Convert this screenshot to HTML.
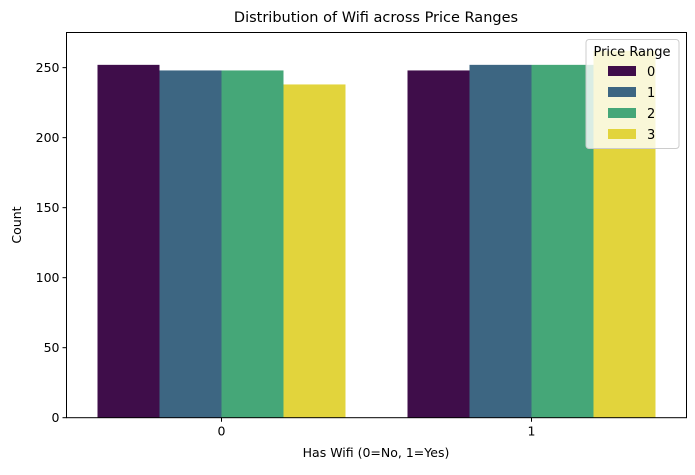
<!DOCTYPE html>
<html><head><meta charset="utf-8"><style>
body{margin:0;background:#fff;font-family:"Liberation Sans","DejaVu Sans",sans-serif}
</style></head><body>
<svg id="chart" width="695" height="470" xmlns="http://www.w3.org/2000/svg" font-family="DejaVu Sans, Liberation Sans, sans-serif">
<text x="376" y="22" text-anchor="middle" font-size="14.5">Distribution of Wifi across Price Ranges</text>
<g id="bars"></g>
<g id="yaxis"></g>
<g id="xaxis"></g>
<rect x="66.5" y="32.5" width="620" height="385.2" fill="none" stroke="#000" stroke-width="1"/>
<text x="376" y="457" text-anchor="middle" font-size="12.5">Has Wifi (0=No, 1=Yes)</text>
<text transform="translate(21,225) rotate(-90)" text-anchor="middle" font-size="12.5">Count</text>
<g id="legend"></g>
</svg>
<script>
const categories = ["0", "1"];
const hues = ["0", "1", "2", "3"];
const series0 = [252, 248];
const series1 = [248, 252];
const series2 = [248, 252];
const series3 = [238, 262];
const yTicks = [0, 50, 100, 150, 200, 250];
const colors = ["#3f0d4a", "#3d6682", "#45a778", "#e2d43c"];
const allSeries = [series0, series1, series2, series3];
const NS = "http://www.w3.org/2000/svg";
const L = 66.5, R = 686.5, T = 32.5, B = 417.7, YMAX = 275.1;
const xs = v => L + (v + 0.5) * (R - L) / 2;
const ys = v => B - v * (B - T) / YMAX;
function mk(tag, attrs, parent) { const e = document.createElementNS(NS, tag); for (const k in attrs) e.setAttribute(k, attrs[k]); parent.appendChild(e); return e; }
const bars = document.getElementById("bars");
const bw = 0.2;
allSeries.forEach((s, h) => {
  s.forEach((v, c) => {
    const x0 = xs(c - 0.4 + h * bw), x1 = xs(c - 0.4 + (h + 1) * bw);
    const r = mk("rect", {x: x0, y: ys(v), width: x1 - x0, height: ys(0) - ys(v), fill: colors[h]}, bars);
    
    
  });
});
const ya = document.getElementById("yaxis");
yTicks.forEach(t => {
  const y = ys(t);
  const l = mk("line", {x1: L - 4, x2: L, y1: y, y2: y, stroke: "#000"}, ya);
  
  
  const tx = mk("text", {x: L - 7, y: y + 4.5, "text-anchor": "end", "font-size": "12.5"}, ya);
  tx.textContent = t;
  
  
});
const xa = document.getElementById("xaxis");
categories.forEach((c, i) => {
  const x = xs(i);
  const l = mk("line", {x1: x, x2: x, y1: B, y2: B + 4, stroke: "#000"}, xa);
  
  
  const tx = mk("text", {x: x, y: B + 18, "text-anchor": "middle", "font-size": "12.5"}, xa);
  tx.textContent = c;
  
  
});
const lg = document.getElementById("legend");
const box = mk("rect", {x: 586, y: 39.5, width: 93, height: 109, rx: 3, fill: "#fff", "fill-opacity": 0.8, stroke: "#ccc"}, lg);


const lt = mk("text", {x: 632, y: 56, "text-anchor": "middle", "font-size": "13"}, lg);
lt.textContent = "Price Range";


hues.forEach((h, i) => {
  const y = 66 + i * 21;
  const p = mk("rect", {x: 608, y: y, width: 28, height: 10, fill: colors[i]}, lg);
  
  
  const tx = mk("text", {x: 647, y: y + 10, "font-size": "13"}, lg);
  tx.textContent = h;
  
  
});
</script>
</body></html>
